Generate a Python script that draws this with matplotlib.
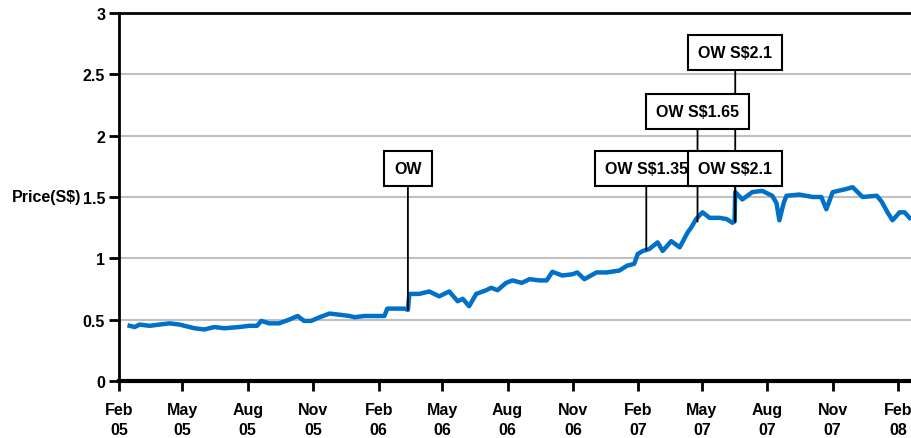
import matplotlib
matplotlib.use('Agg')
import matplotlib.pyplot as plt
import matplotlib.dates as mdates
import numpy as np

plt.rcParams['font.family'] = ['Liberation Sans', 'DejaVu Sans']
plt.rcParams['font.weight'] = 'bold'

# share price (S$)
dates = ['2005-02-16', '2005-02-23', '2005-03-02', '2005-03-16', '2005-03-30', '2005-04-13',
         '2005-04-27', '2005-05-04', '2005-05-18', '2005-06-01', '2005-06-15', '2005-06-29',
         '2005-07-20', '2005-08-03', '2005-08-14', '2005-08-20', '2005-08-31', '2005-09-14',
         '2005-09-28', '2005-10-10', '2005-10-19', '2005-10-29', '2005-11-10', '2005-11-24',
         '2005-12-08', '2005-12-22', '2005-12-29', '2006-01-12', '2006-01-26', '2006-02-09',
         '2006-02-13', '2006-02-23', '2006-03-09', '2006-03-14', '2006-03-16', '2006-03-30',
         '2006-04-13', '2006-04-27', '2006-05-11', '2006-05-23', '2006-05-30', '2006-06-08',
         '2006-06-18', '2006-07-02', '2006-07-09', '2006-07-18', '2006-07-30', '2006-08-08',
         '2006-08-21', '2006-09-01', '2006-09-15', '2006-09-25', '2006-10-03', '2006-10-17',
         '2006-10-31', '2006-11-07', '2006-11-17', '2006-12-04', '2006-12-18', '2007-01-05',
         '2007-01-16', '2007-01-26', '2007-01-31', '2007-02-07', '2007-02-16', '2007-02-28',
         '2007-03-07', '2007-03-19', '2007-03-31', '2007-04-11', '2007-04-16', '2007-04-23',
         '2007-05-02', '2007-05-12', '2007-05-26', '2007-06-05', '2007-06-13', '2007-06-16',
         '2007-06-17', '2007-06-27', '2007-07-11', '2007-07-25', '2007-08-08', '2007-08-14',
         '2007-08-18', '2007-08-24', '2007-08-28', '2007-09-15', '2007-10-04', '2007-10-16',
         '2007-10-23', '2007-11-01', '2007-11-20', '2007-11-29', '2007-12-13', '2008-01-02',
         '2008-01-09', '2008-01-17', '2008-01-24', '2008-02-03', '2008-02-10', '2008-02-17']
prices = [0.45, 0.44, 0.46, 0.45, 0.46, 0.47,
          0.46, 0.45, 0.43, 0.42, 0.44, 0.43,
          0.44, 0.45, 0.45, 0.49, 0.47, 0.47,
          0.50, 0.53, 0.49, 0.49, 0.52, 0.55,
          0.54, 0.53, 0.52, 0.53, 0.53, 0.53,
          0.59, 0.59, 0.59, 0.58, 0.71, 0.71,
          0.73, 0.69, 0.73, 0.65, 0.67, 0.61,
          0.71, 0.74, 0.76, 0.74, 0.80, 0.82,
          0.80, 0.83, 0.82, 0.82, 0.89, 0.86,
          0.87, 0.885, 0.83, 0.885, 0.885, 0.90,
          0.94, 0.955, 1.035, 1.06, 1.075, 1.13,
          1.06, 1.14, 1.09, 1.21, 1.25, 1.32,
          1.375, 1.33, 1.33, 1.32, 1.29, 1.30,
          1.54, 1.48, 1.54, 1.55, 1.51, 1.45,
          1.31, 1.45, 1.51, 1.52, 1.50, 1.50,
          1.40, 1.54, 1.565, 1.58, 1.50, 1.51,
          1.46, 1.375, 1.31, 1.375, 1.375, 1.33]

# rating calls: label, date, price at the call, height of the label box
call_labels = ['OW S$2.1', 'OW', 'OW S$1.35', 'OW S$1.65', 'OW S$2.1']
call_dates = ['2007-06-17', '2006-03-14', '2007-02-12', '2007-04-25', '2007-06-17']
call_prices = [1.30, 0.58, 1.07, 1.30, 1.30]
call_box_y = [2.68, 1.73, 1.73, 2.20, 1.73]

x = np.array(dates, dtype='datetime64[D]')

fig = plt.figure(figsize=(9.11, 4.39), dpi=100)
ax = fig.add_axes([119/911, 1 - 382/439, 1 - 119/911, (382 - 14)/439])

ax.plot(x, prices, color='#0070c8', lw=3.2, solid_joinstyle='round', zorder=3)

for i, (lab, d, p, by) in enumerate(zip(call_labels, call_dates, call_prices, call_box_y)):
    dd = np.datetime64(d)
    ax.annotate(lab, xy=(dd, p), xytext=(dd, by), ha='center', va='center',
                fontsize=11.5, fontweight='bold', zorder=5 + i,
                bbox=dict(boxstyle='square,pad=0.62', fc='white', ec='black', lw=1.5),
                arrowprops=dict(arrowstyle='-', color='black', lw=1.3,
                                shrinkA=0, shrinkB=0))

ax.set_ylim(0, 3)
ax.set_yticks([0, 0.5, 1, 1.5, 2, 2.5, 3])
ax.set_yticklabels(['0', '0.5', '1', '1.5', '2', '2.5', '3'])
ax.set_xlim(np.datetime64('2005-02-01'), np.datetime64('2008-02-19'))
ax.xaxis.set_major_locator(mdates.MonthLocator(bymonth=[2, 5, 8, 11]))
ax.xaxis.set_major_formatter(mdates.DateFormatter('%b\n%y'))

for lbl in ax.get_xticklabels():
    lbl.set_linespacing(1.45)

ax.tick_params(axis='both', direction='out', length=7, width=2, labelsize=11.5)
ax.tick_params(axis='x', pad=8)
ax.tick_params(axis='y', pad=3)

ax.grid(axis='y', color='#c0c0c0', lw=1.5)
ax.set_axisbelow(True)

ax.spines['left'].set_linewidth(2)
ax.spines['bottom'].set_linewidth(3)
ax.spines['top'].set_linewidth(2)
ax.spines['right'].set_visible(False)

fig.text(81/911, 1 - 198/439, 'Price(S$)', ha='right', va='center',
         fontsize=11.5, fontweight='bold')

fig.savefig('out.png', dpi=100)
